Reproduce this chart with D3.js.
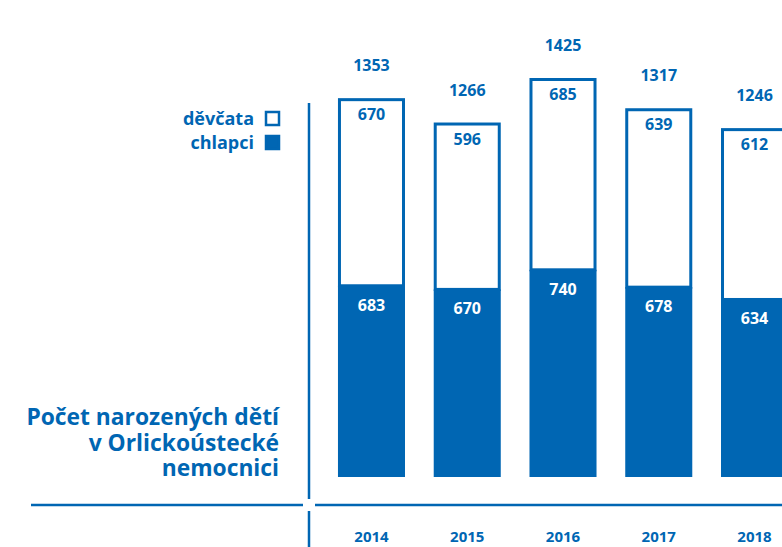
<!DOCTYPE html>
<meta charset="utf-8">
<style>
body { margin: 0; background: #fff; }
svg { display: block; }
text { font-family: "Open Sans", sans-serif; font-weight: 700; }
</style>
<script src="https://cdn.jsdelivr.net/npm/d3@7"></script>
<body>
<script>
// data
var years = ["2014", "2015", "2016", "2017", "2018"];
var boys = [683, 670, 740, 678, 634];   // chlapci
var girls = [670, 596, 685, 639, 612];  // děvčata
var titleLines = ["Počet narozených dětí", "v Orlickoústecké", "nemocnici"];

var blue = "#0066b3";
var W = 782, H = 547;

var svg = d3.select("body").append("svg")
    .attr("width", W)
    .attr("height", H);

var x = d3.scaleBand()
    .domain(years)
    .range([323.6, 802.4])
    .paddingInner(0.3)
    .paddingOuter(0.15);

var y = d3.scaleLinear()
    .domain([0, 1425])
    .range([477, 78]);

var rows = years.map(function(d, i) {
  return { year: d, boys: boys[i], girls: girls[i], total: boys[i] + girls[i] };
});

// girls: outlined box on top
svg.selectAll(".girls")
    .data(rows)
  .enter().append("rect")
    .attr("class", "girls")
    .attr("x", d => x(d.year) + 1.5)
    .attr("y", d => y(d.total) + 1.5)
    .attr("width", x.bandwidth() - 3)
    .attr("height", d => y(d.boys) - y(d.total) - 1.5)
    .attr("fill", "#fff")
    .attr("stroke", blue)
    .attr("stroke-width", 3);

// boys: filled
svg.selectAll(".boys")
    .data(rows)
  .enter().append("rect")
    .attr("class", "boys")
    .attr("x", d => x(d.year))
    .attr("y", d => y(d.boys))
    .attr("width", x.bandwidth())
    .attr("height", d => y(0) - y(d.boys))
    .attr("fill", blue);

var cx = d => x(d.year) + x.bandwidth() / 2;

svg.selectAll(".total")
    .data(rows)
  .enter().append("text")
    .attr("x", cx)
    .attr("y", d => y(d.total) - 27)
    .attr("text-anchor", "middle")
    .attr("font-size", 16)
    .attr("fill", blue)
    .text(d => d.total);

svg.selectAll(".glab")
    .data(rows)
  .enter().append("text")
    .attr("x", cx)
    .attr("y", d => y(d.total) + 22)
    .attr("text-anchor", "middle")
    .attr("font-size", 16)
    .attr("fill", blue)
    .text(d => d.girls);

svg.selectAll(".blab")
    .data(rows)
  .enter().append("text")
    .attr("x", cx)
    .attr("y", d => y(d.boys) + 25)
    .attr("text-anchor", "middle")
    .attr("font-size", 16)
    .attr("fill", "#fff")
    .text(d => d.boys);

// year labels
svg.selectAll(".year")
    .data(years)
  .enter().append("text")
    .attr("x", d => x(d) + x.bandwidth() / 2)
    .attr("y", 542)
    .attr("text-anchor", "middle")
    .attr("font-size", 15)
    .attr("fill", blue)
    .text(d => d);

// frame lines
var lines = [
  [309, 103, 309, 499],
  [309, 511, 309, 547],
  [31, 505, 303, 505],
  [315, 505, 782, 505]
];
svg.selectAll(".frame")
    .data(lines)
  .enter().append("line")
    .attr("x1", d => d[0]).attr("y1", d => d[1])
    .attr("x2", d => d[2]).attr("y2", d => d[3])
    .attr("stroke", blue)
    .attr("stroke-width", 2.5);

// legend
var legend = [{ label: "děvčata", filled: false }, { label: "chlapci", filled: true }];
var lg = svg.selectAll(".legend")
    .data(legend)
  .enter().append("g")
    .attr("transform", (d, i) => "translate(0," + (119 + i * 24) + ")");
lg.append("text")
    .attr("x", 254)
    .attr("y", 6)
    .attr("text-anchor", "end")
    .attr("font-size", 18)
    .attr("fill", blue)
    .text(d => d.label);
lg.append("rect")
    .attr("x", 266)
    .attr("y", -7)
    .attr("width", 13)
    .attr("height", 13)
    .attr("fill", d => d.filled ? blue : "#fff")
    .attr("stroke", blue)
    .attr("stroke-width", 2.5);

// title
svg.append("text")
    .attr("text-anchor", "end")
    .attr("font-size", 22.8)
    .attr("fill", blue)
  .selectAll("tspan")
    .data(titleLines)
  .enter().append("tspan")
    .attr("x", 279)
    .attr("y", (d, i) => 425 + i * 25.5)
    .text(d => d);
</script>
</body>
